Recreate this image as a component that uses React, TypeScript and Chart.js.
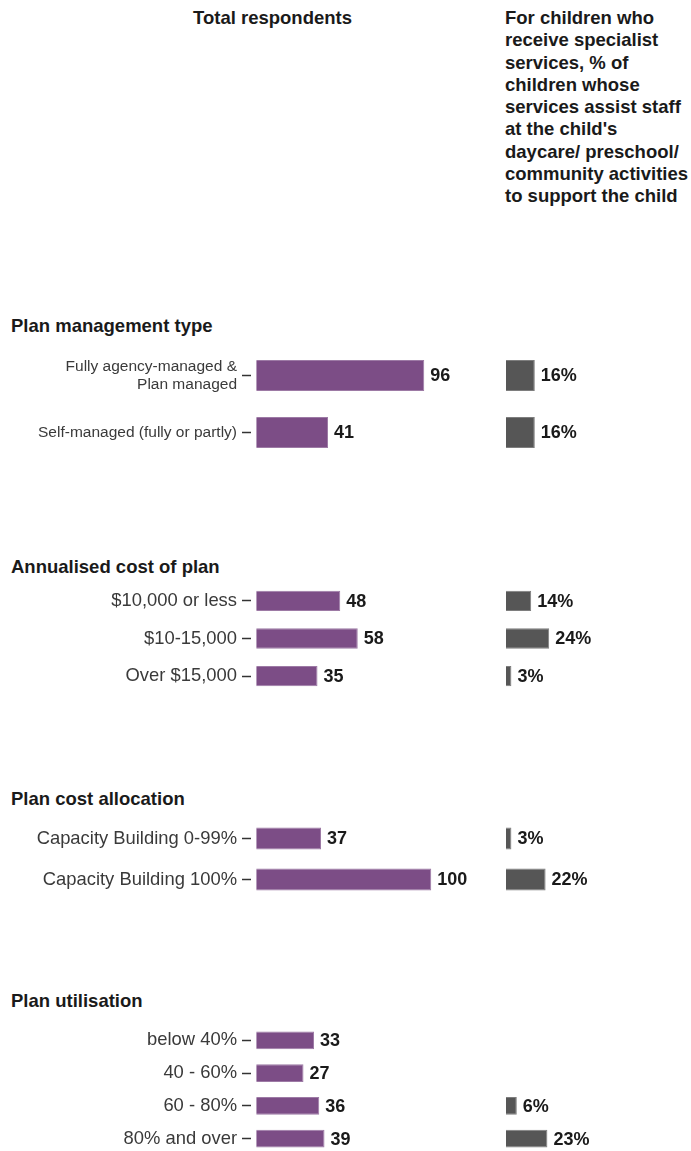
import React, { useEffect, useRef } from "react";
import { Chart, registerables } from "chart.js";

Chart.register(...registerables);

const FONT = '"Liberation Sans", Arial, Helvetica, sans-serif';

// ---- data ----
const leftTitle = "Total respondents";
const rightTitleLines = [
  "For children who",
  "receive specialist",
  "services, % of",
  "children whose",
  "services assist staff",
  "at the child's",
  "daycare/ preschool/",
  "community activities",
  "to support the child",
];

const mgmtHeading = "Plan management type";
const mgmtLabels: (string | string[])[] = [["Fully agency-managed &", "Plan managed"], "Self-managed (fully or partly)"];
const mgmtTotal = [96, 41];
const mgmtAssist = [16, 16];

const costHeading = "Annualised cost of plan";
const costLabels = ["$10,000 or less", "$10-15,000", "Over $15,000"];
const costTotal = [48, 58, 35];
const costAssist = [14, 24, 3];

const allocHeading = "Plan cost allocation";
const allocLabels = ["Capacity Building 0-99%", "Capacity Building 100%"];
const allocTotal = [37, 100];
const allocAssist = [3, 22];

const utilHeading = "Plan utilisation";
const utilLabels = ["below 40%", "40 - 60%", "60 - 80%", "80% and over"];
const utilTotal = [33, 27, 36, 39];
const utilAssist: (number | null)[] = [null, null, 6, 23];

// ---- styles ----
const PURPLE = "#7c4d86";
const PURPLE_EDGE = "#9d7aa5";
const GREY = "#565656";
const GREY_EDGE = "#7e7e7e";
const W = 691;
const AXIS_W = 251;

const valueLabels = {
  id: "valueLabels",
  afterDatasetsDraw(chart: any) {
    const ctx = chart.ctx;
    ctx.save();
    ctx.font = `bold 18px ${FONT}`;
    ctx.fillStyle = "#1a1a1a";
    ctx.textBaseline = "middle";
    ctx.textAlign = "left";
    chart.data.datasets.forEach((ds: any, i: number) => {
      const meta = chart.getDatasetMeta(i);
      meta.data.forEach((el: any, j: number) => {
        const v = ds.data[j];
        if (v === null || v === undefined) return;
        const txt = i === 1 ? `${v}%` : `${v}`;
        ctx.fillText(txt, el.x + 6, el.y + 1);
      });
    });
    ctx.restore();
  },
};

type SectionProps = {
  labels: (string | string[])[];
  total: (number | null)[];
  assist: (number | null)[];
  top: number;
  height: number;
  tickSize: number;
};

function Section({ labels, total, assist, top, height, tickSize }: SectionProps) {
  const ref = useRef<HTMLCanvasElement | null>(null);
  useEffect(() => {
    if (!ref.current) return;
    const leftPx = 1.75; // px per respondent
    const rightPx = 1.8; // px per percent
    const areaW = W - AXIS_W;
    const rightZero = 255; // px offset of the right panel's zero from chart area left
    const chart = new Chart(ref.current, {
      type: "bar",
      data: {
        labels: labels as any,
        datasets: [
          {
            label: "Total respondents",
            data: total,
            xAxisID: "x",
            backgroundColor: PURPLE,
            borderColor: PURPLE_EDGE,
            borderWidth: 1,
            grouped: false,
            barPercentage: 0.54,
            categoryPercentage: 1,
          } as any,
          {
            label: "Services assist staff",
            data: assist,
            xAxisID: "x2",
            backgroundColor: GREY,
            borderColor: GREY_EDGE,
            borderWidth: 1,
            grouped: false,
            barPercentage: 0.54,
            categoryPercentage: 1,
          } as any,
        ],
      },
      options: {
        indexAxis: "y",
        animation: false,
        responsive: false,
        maintainAspectRatio: false,
        devicePixelRatio: 1,
        layout: { padding: 0 },
        plugins: {
          legend: { display: false },
          tooltip: { enabled: false },
          title: { display: false },
        },
        scales: {
          x: {
            display: false,
            min: -3,
            max: areaW / leftPx - 3,
          },
          x2: {
            display: false,
            min: -rightZero / rightPx,
            max: (areaW - rightZero) / rightPx,
          },
          y: {
            position: "left",
            offset: true,
            afterFit: (scale: any) => {
              scale.width = AXIS_W;
              scale.paddingTop = 0;
              scale.paddingBottom = 0;
            },
            border: { display: false },
            grid: {
              display: true,
              offset: false,
              drawOnChartArea: false,
              drawTicks: true,
              tickLength: 9,
              tickWidth: 1.5,
              tickColor: "#333333",
            },
            ticks: {
              padding: 5,
              color: "#3a3a3a",
              autoSkip: false,
              font: { family: FONT, size: tickSize, lineHeight: 1.15 },
            },
          },
        },
      } as any,
      plugins: [valueLabels],
    });
    return () => chart.destroy();
  }, []);
  return (
    <canvas
      ref={ref}
      width={W}
      height={height}
      style={{ position: "absolute", left: 0, top, width: W, height, display: "block" }}
    />
  );
}

const headingStyle = (top: number): React.CSSProperties => ({
  position: "absolute",
  left: 11,
  top,
  fontFamily: FONT,
  fontWeight: "bold",
  fontSize: 18.5,
  lineHeight: "22px",
  color: "#1a1a1a",
  whiteSpace: "nowrap",
});

export default function App() {
  return (
    <div style={{ position: "absolute", left: 0, top: 0, width: W, height: 1151, background: "#fff", overflow: "hidden" }}>
      <div
        style={{
          position: "absolute",
          left: 193,
          top: 7,
          fontFamily: FONT,
          fontWeight: "bold",
          fontSize: 18.5,
          lineHeight: "22px",
          color: "#1a1a1a",
          whiteSpace: "nowrap",
        }}
      >
        {leftTitle}
      </div>
      <div
        style={{
          position: "absolute",
          left: 505,
          top: 7,
          fontFamily: FONT,
          fontWeight: "bold",
          fontSize: 18.5,
          lineHeight: "22.3px",
          color: "#1a1a1a",
          whiteSpace: "nowrap",
        }}
      >
        {rightTitleLines.map((l, i) => (
          <div key={i}>{l}</div>
        ))}
      </div>

      <div style={headingStyle(315)}>{mgmtHeading}</div>
      <Section labels={mgmtLabels} total={mgmtTotal} assist={mgmtAssist} top={347} height={114} tickSize={15.5} />

      <div style={headingStyle(556)}>{costHeading}</div>
      <Section labels={costLabels} total={costTotal} assist={costAssist} top={582} height={113} tickSize={18.4} />

      <div style={headingStyle(788)}>{allocHeading}</div>
      <Section labels={allocLabels} total={allocTotal} assist={allocAssist} top={818} height={82} tickSize={18.4} />

      <div style={headingStyle(990)}>{utilHeading}</div>
      <Section labels={utilLabels} total={utilTotal} assist={utilAssist} top={1024} height={131} tickSize={18.4} />
    </div>
  );
}
